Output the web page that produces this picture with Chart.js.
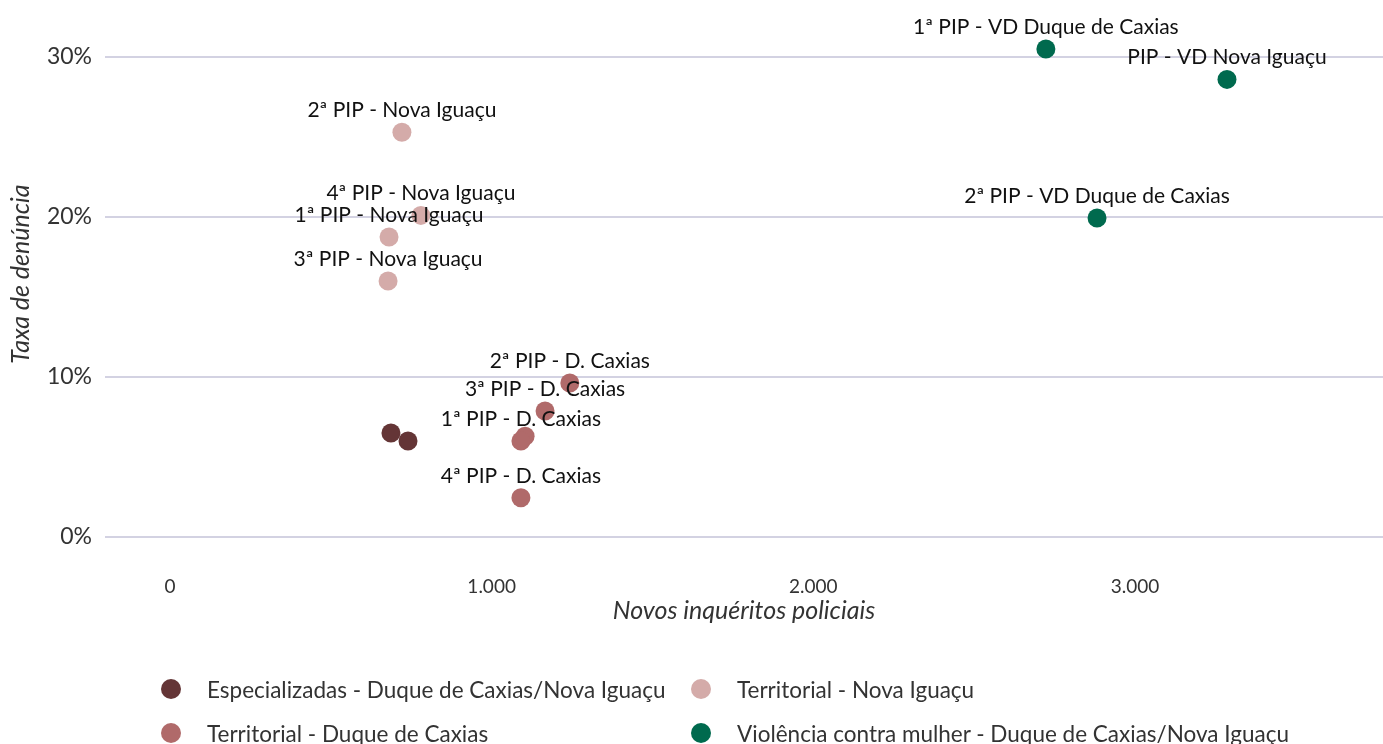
<!DOCTYPE html>
<html>
<head>
<meta charset="utf-8">
<script src="https://cdn.jsdelivr.net/npm/chart.js@4.4.1/dist/chart.umd.min.js"></script>
<style>
    body { margin: 0; background: #fff; font-family: Lato, sans-serif; }
    #wrap { position: relative; width: 1383px; height: 744px; }
    #box { position: absolute; left: 0; top: 0; width: 1383px; height: 640px; }
    #legend { position: absolute; left: 0; top: 0; width: 1383px; height: 744px; pointer-events: none; }
    .item { position: absolute; display: flex; align-items: center; font-size: 22.5px; color: #333; white-space: nowrap; }
    .dot { width: 20px; height: 20px; border-radius: 50%; margin-right: 26px; flex: none; }
</style>
</head>
<body>
<div id="wrap">
    <div id="box"><canvas id="scatterChart"></canvas></div>
    <div id="legend"></div>
</div>
<script>
// Eixo x: novos inquéritos policiais; eixo y: taxa de denúncia (%)
const seriesNames = [
    'Especializadas - Duque de Caxias/Nova Iguaçu',
    'Territorial - Nova Iguaçu',
    'Territorial - Duque de Caxias',
    'Violência contra mulher - Duque de Caxias/Nova Iguaçu'
];
const seriesColors = ['#643536', '#d4aba9', '#b06a6a', '#006a4e'];

const especX = [687, 740];
const especY = [6.5, 6.0];
const especLabels = ['', ''];

const niX = [721, 780, 681, 678];
const niY = [25.3, 20.1, 18.75, 16.0];
const niLabels = ['2ª PIP - Nova Iguaçu', '4ª PIP - Nova Iguaçu', '1ª PIP - Nova Iguaçu', '3ª PIP - Nova Iguaçu'];

const dcX = [1243, 1166, 1104, 1091, 1091];
const dcY = [9.62, 7.88, 6.3, 6.0, 2.45];
const dcLabels = ['2ª PIP - D. Caxias', '3ª PIP - D. Caxias', '', '1ª PIP - D. Caxias', '4ª PIP - D. Caxias'];

const vdX = [2723, 3286, 2882];
const vdY = [30.5, 28.6, 19.94];
const vdLabels = ['1ª PIP - VD Duque de Caxias', 'PIP - VD Nova Iguaçu', '2ª PIP - VD Duque de Caxias'];

const xTicks = [0, 1000, 2000, 3000];
const yTicks = [0, 10, 20, 30];

function toPoints(xs, ys) {
    return xs.map((x, i) => ({ x: x, y: ys[i] }));
}

const allX = [especX, niX, dcX, vdX];
const allY = [especY, niY, dcY, vdY];
const allLabels = [especLabels, niLabels, dcLabels, vdLabels];

const pointLabelsPlugin = {
    id: 'pointLabels',
    afterDatasetsDraw(chart) {
        const ctx = chart.ctx;
        ctx.save();
        ctx.font = '21px Lato';
        ctx.fillStyle = '#111';
        ctx.textAlign = 'center';
        ctx.textBaseline = 'middle';
        chart.data.datasets.forEach((ds, d) => {
            const meta = chart.getDatasetMeta(d);
            meta.data.forEach((pt, i) => {
                const txt = allLabels[d][i];
                if (txt) ctx.fillText(txt, pt.x, pt.y - 22);
            });
        });
        ctx.restore();
    }
};

const chart = new Chart(document.getElementById('scatterChart'), {
    type: 'scatter',
    data: {
        datasets: seriesNames.map((name, d) => ({
            label: name,
            data: toPoints(allX[d], allY[d]),
            backgroundColor: seriesColors[d],
            borderWidth: 0,
            pointRadius: 9.5,
            pointHoverRadius: 9.5,
            clip: false
        }))
    },
    options: {
        responsive: true,
        maintainAspectRatio: false,
        animation: false,
        layout: { padding: 0, autoPadding: false },
        plugins: {
            legend: { display: false },
            tooltip: { enabled: false }
        },
        scales: {
            x: {
                type: 'linear',
                min: -202,
                max: 3771,
                afterBuildTicks: s => { s.ticks = xTicks.map(v => ({ value: v })); },
                afterFit: s => { s.height = 92; s.paddingLeft = 0; s.paddingRight = 0; },
                grid: { display: false, drawTicks: false },
                border: { display: false },
                ticks: {
                    padding: 27,
                    color: '#333',
                    font: { family: 'Lato', size: 19 },
                    callback: v => v.toLocaleString('pt-BR')
                },
                title: {
                    display: true,
                    text: 'Novos inquéritos policiais',
                    color: '#333',
                    font: { family: 'Lato', size: 25, style: 'italic' },
                    padding: { top: 0, bottom: 14 }
                }
            },
            y: {
                min: -0.6875,
                max: 33.5625,
                afterBuildTicks: s => { s.ticks = yTicks.map(v => ({ value: v })); },
                afterFit: s => { s.width = 105; s.paddingTop = 0; s.paddingBottom = 0; },
                grid: { color: '#d3d2e2', lineWidth: 2, drawTicks: false },
                border: { display: false },
                ticks: {
                    padding: 13,
                    color: '#333',
                    font: { family: 'Lato', size: 23 },
                    callback: v => v + '%'
                },
                title: {
                    display: true,
                    text: 'Taxa de denúncia',
                    color: '#333',
                    font: { family: 'Lato', size: 25, style: 'italic' },
                    padding: { top: 6, bottom: 0 }
                }
            }
        }
    },
    plugins: [pointLabelsPlugin]
});

// Legenda em duas colunas, como no original
const legendPos = [
    { left: 161, top: 679 },
    { left: 691, top: 679 },
    { left: 161, top: 723 },
    { left: 691, top: 723 }
];
const legendEl = document.getElementById('legend');
chart.data.datasets.forEach((ds, d) => {
    const item = document.createElement('div');
    item.className = 'item';
    item.style.left = legendPos[d].left + 'px';
    item.style.top = legendPos[d].top + 'px';
    item.style.height = '20px';
    item.innerHTML = '<span class="dot" style="background:' + ds.backgroundColor + '"></span><span></span>';
    item.lastChild.textContent = ds.label;
    legendEl.appendChild(item);
});
</script>
</body>
</html>
